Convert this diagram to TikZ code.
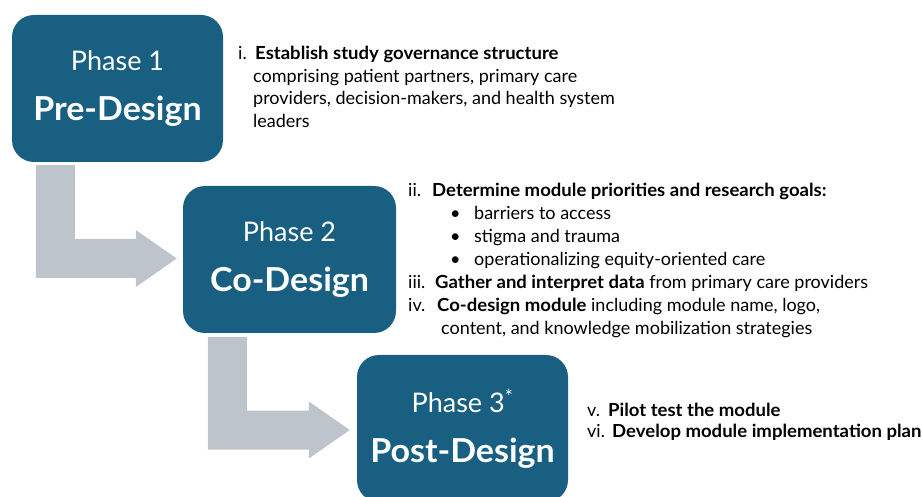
\documentclass[tikz,border=0pt]{standalone}
\usepackage{fontspec}
\setmainfont{Lato}[BoldFeatures={FakeStretch=1.03}]
\usetikzlibrary{calc}

\definecolor{phaseblue}{RGB}{24,95,129}
\definecolor{flowgrey}{RGB}{189,196,204}

% fixed-width label in front of a step line
\newcommand\lbl[2][17pt]{\makebox[#1][l]{#2}}
% bent block arrow: #1 top-left of the stem, #2 tip
\newcommand\bentarrow[2]{%
	\fill[flow] (#1) -- ++(39,0) |- ($(#2)+(-41,-19.5)$) -- ++(0,-9) -- (#2)
		-- ($(#2)+(-41,28.5)$) -- ++(0,-9) -| (#1) -- cycle;}

\begin{document}
\begin{tikzpicture}[x=1pt,y=-1pt,line join=round,line cap=round]
	\tikzset{
		phase/.style={fill=phaseblue,rounded corners=22pt,minimum width=211pt,minimum height=147pt,
			text=white,align=center,inner sep=0pt,font=\fontsize{27}{50}\selectfont},
		steps/.style={anchor=base west,inner sep=0pt,text=black},
		flow/.style={fill=flowgrey},
	}
	\useasboundingbox (0,0) rectangle (922,497);
	% the three phases
	\node (ph1) [phase] at (117.5,88.5) {Phase 1\\ \fontsize{33}{50}\selectfont\bfseries Pre-Design};
	\node (ph2) [phase, minimum width=213pt] at (289.5,259.5) {Phase 2\\ \fontsize{33}{50}\selectfont\bfseries Co-Design};
	\node (ph3) [phase] at (462.5,428.5) {Phase 3\textsuperscript{*}\\ \fontsize{33}{50}\selectfont\bfseries Post-Design};
	% arrows between phases
	\coordinate (ph1 out) at ($(ph1.south west)+(24,3)$);
	\coordinate (ph2 in) at ($(ph2.west)+(-6,-1)$);
	\coordinate (ph2 out) at ($(ph2.south west)+(25,4)$);
	\coordinate (ph3 in) at ($(ph3.west)+(-7,1.5)$);
	\bentarrow{ph1 out}{ph2 in}
	\bentarrow{ph2 out}{ph3 in}
	% steps of each phase
	\node (st1) [steps] at (238,60) {\fontsize{18}{22.5}\selectfont
		\begin{tabular}[t]{@{}l@{}}
			\lbl{i.}\textbf{Establish study governance structure}\\
			\lbl[15pt]{}comprising patient partners, primary care\\
			\lbl[15pt]{}providers, decision-makers, and health system\\
			\lbl[15pt]{}leaders
		\end{tabular}};
	\node (st2) [steps] at (408,197) {\fontsize{18}{23}\selectfont
		\begin{tabular}[t]{@{}l@{}}
			\lbl[24pt]{ii.}\textbf{Determine module priorities and research goals:}\\
			\hspace*{42pt}\lbl[24pt]{\textbullet}barriers to access\\
			\hspace*{42pt}\lbl[24pt]{\textbullet}stigma and trauma\\
			\hspace*{42pt}\lbl[24pt]{\textbullet}operationalizing equity-oriented care\\
			\lbl[27pt]{iii.}\textbf{Gather and interpret data} from primary care providers\\
			\lbl[29pt]{iv.}\textbf{Co-design module} including module name, logo,\\
			\lbl[33pt]{}content, and knowledge mobilization strategies
		\end{tabular}};
	\node (st3) [steps] at (587,416) {\fontsize{18}{21}\selectfont
		\begin{tabular}[t]{@{}l@{}}
			\lbl[21pt]{v.}\textbf{Pilot test the module}\\
			\lbl[25pt]{vi.}\textbf{Develop module implementation plan}
		\end{tabular}};
\end{tikzpicture}
\end{document}
